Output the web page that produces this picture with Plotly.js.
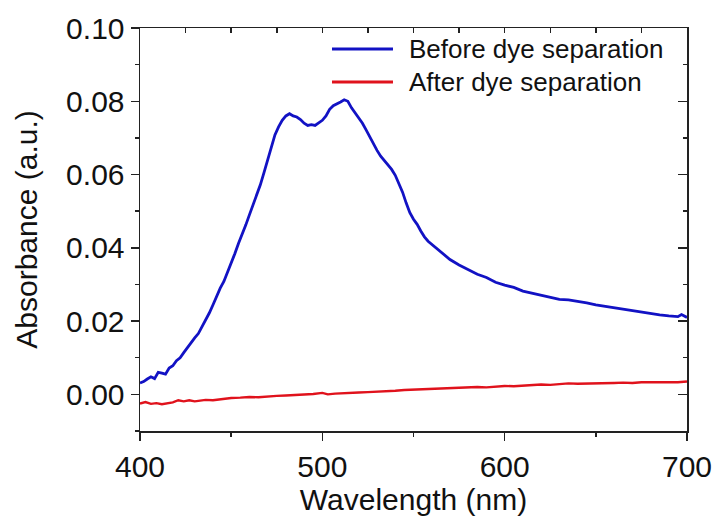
<!DOCTYPE html>
<html>
<head>
<meta charset="utf-8">
<script src="https://cdn.plot.ly/plotly-3.0.1.min.js"></script>
<style>html,body{margin:0;padding:0;background:#fff;}#chart{width:718px;height:517px;}</style>
</head>
<body>
<div id="chart"></div>
<script>
// Before dye separation (blue)
const beforeWavelength = [400,402,404,406,408,410,412,414,416,418,420,422,424,426,428,430,432,434,436,438,440,442,444,446,448,450,452,454,456,458,460,462,464,466,468,470,472,474,476,478,480,482,484,486,488,490,492,494,496,498,500,502,504,506,508,510,512,514,516,518,520,522,524,526,528,530,532,534,536,538,540,542,544,546,548,550,552,554,556,558,560,565,570,575,580,585,590,595,600,605,610,615,620,625,630,635,640,645,650,655,660,665,670,675,680,685,690,695,697,700];
const beforeAbs = [0.0031,0.0035,0.0042,0.0048,0.0043,0.0060,0.0058,0.0055,0.0072,0.0078,0.0092,0.0100,0.0114,0.0128,0.0140,0.0154,0.0166,0.0184,0.0200,0.0222,0.0244,0.0268,0.0290,0.0308,0.0332,0.0356,0.0384,0.0412,0.0436,0.0462,0.0490,0.0516,0.0546,0.0572,0.0605,0.0640,0.0676,0.0708,0.0730,0.0748,0.0760,0.0766,0.0760,0.0757,0.0750,0.0740,0.0734,0.0736,0.0734,0.0740,0.0748,0.0760,0.0778,0.0788,0.0792,0.0798,0.0804,0.0800,0.0782,0.0768,0.0752,0.0740,0.0722,0.0702,0.0684,0.0666,0.0650,0.0638,0.0626,0.0614,0.0598,0.0576,0.0552,0.0522,0.0496,0.0478,0.0464,0.0446,0.0430,0.0418,0.0410,0.0390,0.0368,0.0353,0.0340,0.0328,0.0319,0.0306,0.0298,0.0292,0.0282,0.0276,0.0272,0.0265,0.0259,0.0258,0.0255,0.0250,0.0244,0.0240,0.0236,0.0233,0.0230,0.0226,0.0222,0.0217,0.0214,0.0212,0.0218,0.0210];

// After dye separation (red)
const afterWavelength = [400,403,406,409,412,415,418,421,424,427,430,433,436,440,445,450,455,460,465,470,475,480,485,490,495,500,503,507,510,515,520,525,530,535,540,545,550,555,560,565,570,575,580,585,590,595,600,605,610,615,620,625,630,635,640,645,650,655,660,665,670,675,680,685,690,695,700];
const afterAbs = [-0.0025,-0.0021,-0.0026,-0.0024,-0.0027,-0.0024,-0.0022,-0.0016,-0.0019,-0.0016,-0.0019,-0.0017,-0.0015,-0.0016,-0.0012,-0.0010,-0.0009,-0.0007,-0.0008,-0.0005,-0.0004,-0.0003,-0.0002,-0.0001,0.0001,0.0004,0.0000,0.0002,0.0003,0.0004,0.0005,0.0006,0.0008,0.0008,0.0010,0.0012,0.0013,0.0012,0.0015,0.0016,0.0017,0.0016,0.0019,0.0020,0.0019,0.0022,0.0023,0.0022,0.0024,0.0026,0.0027,0.0026,0.0028,0.0030,0.0029,0.0029,0.0031,0.0030,0.0031,0.0032,0.0031,0.0033,0.0033,0.0032,0.0034,0.0033,0.0035];

const seriesNames = ["Before dye separation", "After dye separation"];
const seriesColors = ["#1212c4", "#e0121c"];

const FONT = "Liberation Sans, Arial, sans-serif";
const AX = "#222";

const traces = [
  {x: beforeWavelength, y: beforeAbs, type: "scatter", mode: "lines", name: seriesNames[0],
   line: {color: seriesColors[0], width: 2.8}, showlegend: false},
  {x: afterWavelength, y: afterAbs, type: "scatter", mode: "lines", name: seriesNames[1],
   line: {color: seriesColors[1], width: 2.4}, showlegend: false},
  // empty trace so the top/right frame axes are drawn
  {x: [], y: [], type: "scatter", mode: "lines", xaxis: "x2", yaxis: "y2", showlegend: false, hoverinfo: "skip"}
];

// legend drawn as layout items
const legY = [0.948, 0.866];
const shapes = seriesNames.map((n, i) => ({
  type: "line", xref: "paper", yref: "paper", x0: 0.351, x1: 0.4625, y0: legY[i], y1: legY[i],
  line: {color: seriesColors[i], width: 3}
}));
const annotations = seriesNames.map((n, i) => ({
  xref: "paper", yref: "paper", x: 0.488, y: legY[i], xanchor: "left", yanchor: "middle",
  text: n, showarrow: false, font: {family: FONT, size: 26, color: "#111"}
}));

const layout = {
  width: 718, height: 517,
  margin: {l: 140, r: 31, t: 28, b: 86},
  paper_bgcolor: "#fff", plot_bgcolor: "#fff",
  showlegend: false,
  font: {family: FONT, color: "#111"},
  xaxis: {
    range: [400, 700], dtick: 100, tick0: 400,
    ticks: "outside", ticklen: 8, tickwidth: 1.5, tickcolor: AX,
    minor: {dtick: 50, ticks: "outside", ticklen: 4, tickwidth: 1.5, tickcolor: AX},
    showline: true, linecolor: AX, linewidth: 1.5, showgrid: false, zeroline: false,
    tickfont: {family: FONT, size: 30, color: "#111"},
    title: {text: "Wavelength (nm)", font: {family: FONT, size: 30, color: "#111"}, standoff: 4}
  },
  xaxis2: {
    overlaying: "x", side: "top", anchor: "y2", range: [400, 700], dtick: 25, tick0: 400,
    ticks: "inside", ticklen: 5, tickwidth: 1.5, tickcolor: AX, showticklabels: false,
    showline: true, linecolor: AX, linewidth: 1.5, showgrid: false, zeroline: false
  },
  yaxis: {
    range: [-0.01, 0.10], dtick: 0.02, tick0: 0, tickformat: ".2f",
    ticks: "outside", ticklen: 8, tickwidth: 1.5, tickcolor: AX,
    minor: {dtick: 0.01, ticks: "outside", ticklen: 4, tickwidth: 1.5, tickcolor: AX},
    showline: true, linecolor: AX, linewidth: 1.5, showgrid: false, zeroline: false,
    tickfont: {family: FONT, size: 30, color: "#111"},
    title: {text: "Absorbance (a.u.)", font: {family: FONT, size: 30, color: "#111"}, standoff: 19}
  },
  yaxis2: {
    overlaying: "y", side: "right", anchor: "x2", range: [-0.01, 0.10], dtick: 0.02, tick0: 0,
    ticks: "inside", ticklen: 9, tickwidth: 1.5, tickcolor: AX, showticklabels: false,
    minor: {dtick: 0.01, ticks: "inside", ticklen: 4, tickwidth: 1.5, tickcolor: AX},
    showline: true, linecolor: AX, linewidth: 1.5, showgrid: false, zeroline: false
  },
  shapes: shapes,
  annotations: annotations
};

Plotly.newPlot("chart", traces, layout, {staticPlot: true, displayModeBar: false});
</script>
</body>
</html>
